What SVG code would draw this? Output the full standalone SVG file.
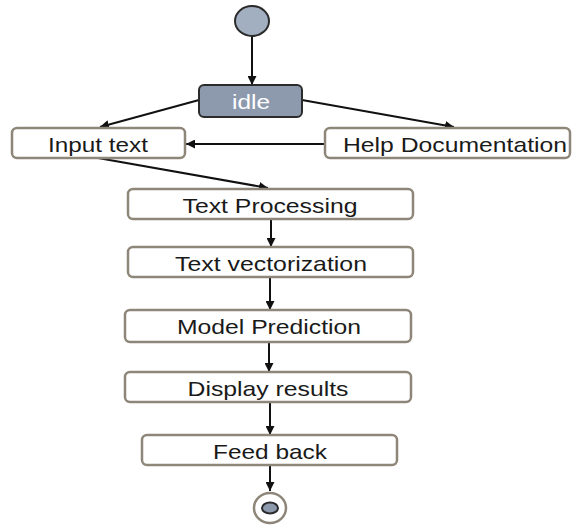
<svg xmlns="http://www.w3.org/2000/svg" width="579" height="525" viewBox="0 0 579 525">
<defs>
<style>
.box{fill:#fff;stroke:#8e8678;stroke-width:2.5}
.lbl{font-family:"Liberation Sans",Arial,sans-serif;font-size:21px;fill:#1a1a1a;text-anchor:middle;dominant-baseline:central}
.edge{stroke:#111;stroke-width:2;fill:none;marker-end:url(#ah)}
</style>
<marker id="ah" viewBox="0 0 10 10" refX="10" refY="5" markerWidth="9" markerHeight="9" markerUnits="userSpaceOnUse" orient="auto">
<path d="M0,0 L10,5 L0,10 z" fill="#111"/>
</marker>
</defs>
<rect width="579" height="525" fill="#fff"/>
<g id="connectors">
<line class="edge" x1="252" y1="36" x2="252" y2="85"/>
<line class="edge" x1="199" y1="100" x2="100" y2="127"/>
<line class="edge" x1="302" y1="100" x2="454" y2="127"/>
<line class="edge" x1="325" y1="144" x2="186" y2="144"/>
<line class="edge" x1="98" y1="158" x2="268" y2="188"/>
<line class="edge" x1="271" y1="219" x2="271" y2="247"/>
<line class="edge" x1="270" y1="277" x2="270" y2="310"/>
<line class="edge" x1="269" y1="342" x2="269" y2="372"/>
<line class="edge" x1="270" y1="402" x2="270" y2="435"/>
<line class="edge" x1="270" y1="465" x2="270" y2="491"/>
</g>
<g id="start">
<ellipse cx="252" cy="21" rx="17" ry="15" fill="#a2afc1" stroke="#2b2b2b" stroke-width="2"/>
</g>
<g id="idle">
<rect x="199" y="85" width="103" height="32" rx="5" fill="#8d9aae" stroke="#2b2b2b" stroke-width="2"/>
<text class="lbl" x="251" y="101" textLength="38" lengthAdjust="spacingAndGlyphs" style="fill:#fff">idle</text>
</g>
<g id="input-text">
<rect class="box" x="12" y="128" width="173" height="30" rx="5"/>
<text class="lbl" x="98" y="144" textLength="100" lengthAdjust="spacingAndGlyphs">Input text</text>
</g>
<g id="help-documentation">
<rect class="box" x="325" y="128" width="245" height="30" rx="5"/>
<text class="lbl" x="455" y="144" textLength="224" lengthAdjust="spacingAndGlyphs">Help Documentation</text>
</g>
<g id="text-processing">
<rect class="box" x="128" y="189" width="285" height="30" rx="5"/>
<text class="lbl" x="270" y="205" textLength="175" lengthAdjust="spacingAndGlyphs">Text Processing</text>
</g>
<g id="text-vectorization">
<rect class="box" x="128" y="247" width="285" height="30" rx="5"/>
<text class="lbl" x="271" y="263" textLength="192" lengthAdjust="spacingAndGlyphs">Text vectorization</text>
</g>
<g id="model-prediction">
<rect class="box" x="125" y="310" width="286" height="32" rx="5"/>
<text class="lbl" x="269" y="326" textLength="184" lengthAdjust="spacingAndGlyphs">Model Prediction</text>
</g>
<g id="display-results">
<rect class="box" x="125" y="372" width="286" height="30" rx="5"/>
<text class="lbl" x="268" y="388" textLength="161" lengthAdjust="spacingAndGlyphs">Display results</text>
</g>
<g id="feed-back">
<rect class="box" x="142" y="435" width="255" height="30" rx="5"/>
<text class="lbl" x="270" y="451" textLength="114" lengthAdjust="spacingAndGlyphs">Feed back</text>
</g>
<g id="end">
<ellipse cx="270" cy="508" rx="16" ry="15" fill="#fff" stroke="#8e8678" stroke-width="2.5"/>
<ellipse cx="270" cy="508" rx="8" ry="5.5" fill="#8d9aae" stroke="#2b2b2b" stroke-width="2"/>
</g>
</svg>
